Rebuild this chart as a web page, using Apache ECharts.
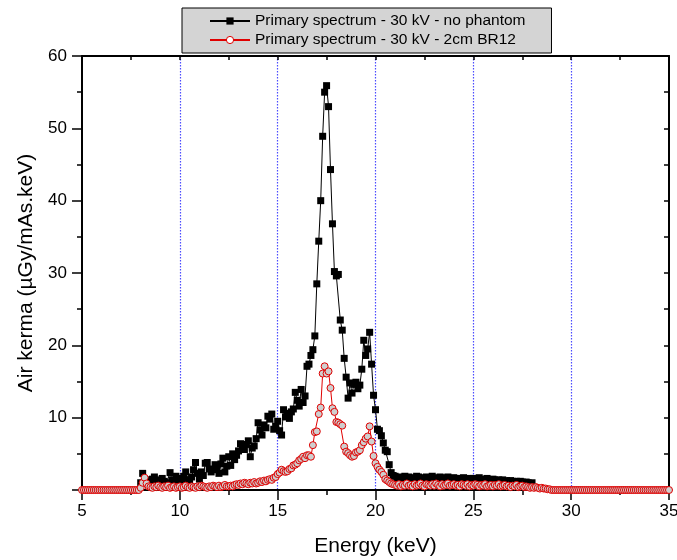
<!DOCTYPE html>
<html><head><meta charset="utf-8">
<script src="https://cdn.jsdelivr.net/npm/echarts@6/dist/echarts.min.js"></script>
<style>html,body{margin:0;padding:0;background:#fff}#c{width:677px;height:560px}</style>
</head><body><div id="c"></div>
<script>
// ---- data (energy step 0.1 keV) ----
const energyStep = 0.1;
const blackStartEnergy = 8.0;   // keV of first black value
const redStartEnergy = 5.0;     // keV of first red value
const seriesNames = ['Primary spectrum - 30 kV - no phantom', 'Primary spectrum - 30 kV - 2cm BR12'];
const xTickValues = [5, 10, 15, 20, 25, 30, 35];
const yTickValues = [10, 20, 30, 40, 50, 60];

// no phantom, 8.0 ... 28.0 keV
const blackValues = [
  1.0, 2.3, 1.0, 1.4, 0.8, 1.1, 1.5, 1.8, 1.0, 1.4,
  0.9, 1.6, 1.2, 0.8, 1.0, 2.4, 1.4, 1.1, 1.9, 1.0,
  1.6, 1.2, 1.9, 2.5, 1.4, 1.4, 1.8, 2.8, 3.8, 2.3,
  1.5, 2.5, 2.0, 3.7, 3.8, 2.9, 2.5, 2.8, 3.5, 3.2,
  2.3, 3.6, 4.4, 2.5, 3.3, 4.6, 3.4, 5.0, 4.2, 4.8,
  5.4, 6.4, 6.0, 5.6, 6.3, 6.8, 4.6, 5.8, 6.1, 7.1,
  9.3, 8.3, 7.6, 9.0, 8.6, 10.2, 9.8, 10.5, 8.4, 8.8,
  9.5, 8.2, 7.6, 11.1, 10.1, 10.6, 9.9, 10.8, 11.2, 13.5,
  12.4, 11.6, 13.9, 12.1, 13.0, 17.1, 17.4, 18.6, 19.4, 21.3,
  28.5, 34.4, 40.0, 48.9, 55.0, 55.9, 53.0, 44.3, 36.8, 30.2,
  29.6, 29.8, 23.5, 22.1, 18.2, 15.6, 12.7, 14.8, 13.4, 14.6,
  14.9, 14.0, 14.5, 16.7, 20.7, 18.6, 19.5, 21.8, 17.4, 13.1,
  11.1, 8.4, 8.2, 7.5, 6.5, 5.5, 5.3, 3.5, 2.4, 2.0,
  1.9, 1.6, 1.8, 1.5, 1.7, 1.9, 1.6, 1.8, 1.4, 1.7,
  1.6, 1.9, 1.8, 1.5, 1.7, 1.6, 1.8, 1.5, 1.6, 1.9,
  1.7, 1.5, 1.6, 1.8, 1.7, 1.5, 1.6, 1.8, 1.4, 1.6,
  1.7, 1.5, 1.6, 1.4, 1.6, 1.7, 1.5, 1.4, 1.6, 1.5,
  1.6, 1.4, 1.5, 1.7, 1.4, 1.5, 1.3, 1.6, 1.4, 1.3,
  1.5, 1.4, 1.2, 1.4, 1.3, 1.4, 1.2, 1.3, 1.1, 1.3,
  1.2, 1.1, 1.2, 1.0, 1.2, 1.1, 0.9, 1.1, 1.0, 0.9,
  1.0
];

// 2cm BR12, 5.0 ... 35.0 keV
const redValues = [
  0, 0, 0, 0, 0, 0, 0, 0, 0, 0,
  0, 0, 0, 0, 0, 0, 0, 0, 0, 0,
  0, 0, 0, 0, 0, 0, 0, 0, 0, 0,
  0.3, 1.0, 1.7, 0.9, 0.5, 0.4, 0.3, 0.5, 0.4, 0.6,
  0.4, 0.3, 0.5, 0.4, 0.6, 0.3, 0.4, 0.5, 0.3, 0.4,
  0.5, 0.3, 0.4, 0.6, 0.4, 0.3, 0.5, 0.4, 0.3, 0.5,
  0.4, 0.6, 0.5, 0.4, 0.3, 0.5, 0.4, 0.6, 0.5, 0.4,
  0.6, 0.4, 0.5, 0.7, 0.5, 0.5, 0.6, 0.5, 0.7, 0.8,
  0.7, 0.9, 0.8, 1.0, 0.9, 0.8, 1.0, 0.9, 1.1, 0.9,
  1.0, 1.2, 1.1, 1.3, 1.2, 1.4, 1.5, 1.4, 1.7, 1.8,
  2.2, 2.4, 2.8, 2.6, 2.5, 2.6, 2.9, 3.0, 3.4, 3.5,
  3.7, 4.1, 4.3, 4.6, 4.4, 4.8, 4.8, 4.6, 6.2, 8.0,
  8.1, 10.5, 11.4, 16.1, 17.1, 16.1, 16.4, 14.1, 11.3, 10.8,
  9.4, 9.3, 9.1, 8.9, 6.0, 5.3, 5.1, 4.8, 4.6, 4.7,
  5.2, 5.3, 5.5, 6.2, 6.6, 7.1, 7.4, 8.8, 6.7, 4.7,
  3.7, 3.2, 2.8, 2.5, 2.1, 1.5, 1.3, 1.1, 0.9, 0.8,
  0.7, 0.6, 0.8, 0.5, 0.7, 0.6, 0.9, 0.6, 0.7, 0.5,
  0.8, 0.6, 0.7, 0.9, 0.6, 0.5, 0.8, 0.7, 0.6, 0.8,
  0.6, 0.9, 0.7, 0.5, 0.8, 0.6, 0.7, 0.9, 0.6, 0.7,
  0.8, 0.6, 0.7, 0.5, 0.8, 0.7, 0.6, 0.8, 0.5, 0.7,
  0.6, 0.8, 0.7, 0.5, 0.7, 0.6, 0.8, 0.5, 0.6, 0.7,
  0.5, 0.7, 0.6, 0.8, 0.5, 0.6, 0.7, 0.5, 0.6, 0.4,
  0.6, 0.5, 0.7, 0.4, 0.5, 0.6, 0.4, 0.5, 0.4, 0.3,
  0.4, 0.3, 0.4, 0.3, 0.2, 0.3, 0.2, 0.2, 0.1, 0.1,
  0, 0, 0, 0, 0, 0, 0, 0, 0, 0,
  0, 0, 0, 0, 0, 0, 0, 0, 0, 0,
  0, 0, 0, 0, 0, 0, 0, 0, 0, 0,
  0, 0, 0, 0, 0, 0, 0, 0, 0, 0,
  0, 0, 0, 0, 0, 0, 0, 0, 0, 0,
  0, 0, 0, 0, 0, 0, 0, 0, 0, 0,
  0
];

function toPairs(start, vals) {
  return vals.map((v, i) => [Math.round((start + i * energyStep) * 10) / 10, v]);
}

const FONT = '"Liberation Sans", Arial, sans-serif';
const chart = echarts.init(document.getElementById('c'), null, {renderer: 'canvas'});

const frameLine = {show: true, onZero: false, lineStyle: {color: '#000', width: 2}};

chart.setOption({
  animation: false,
  backgroundColor: '#fff',
  grid: {left: 82, right: 8, top: 56, bottom: 70, outerBoundsMode: 'none', containLabel: false},
  legend: {
    left: 182, top: 8, orient: 'vertical',
    backgroundColor: '#d4d4d4', borderColor: '#000', borderWidth: 1,
    padding: [5, 26, 5, 27],
    itemWidth: 40, itemHeight: 9, itemGap: 3,
    textStyle: {fontSize: 15.5, color: '#000', fontFamily: FONT},
    data: [
      {name: seriesNames[0], itemStyle: {color: '#000'}},
      {name: seriesNames[1], itemStyle: {color: '#fff', borderColor: '#e00000', borderWidth: 1}}
    ]
  },
  xAxis: [
    {
      type: 'value', position: 'bottom', min: xTickValues[0], max: xTickValues[xTickValues.length - 1], interval: 5,
      axisLine: frameLine,
      axisTick: {show: true, inside: false, length: 10, lineStyle: {color: '#000', width: 1.5}},
      minorTick: {show: true, splitNumber: 2, length: 5, lineStyle: {color: '#000', width: 1.5}},
      axisLabel: {margin: 13, fontSize: 17, color: '#000', fontFamily: FONT},
      splitLine: {show: true, showMinLine: false, showMaxLine: false, lineStyle: {color: '#4b4bff', type: [1.5, 1.5], width: 1.2}},
      name: 'Energy (keV)', nameLocation: 'middle', nameGap: 46,
      nameTextStyle: {fontSize: 21, color: '#000', fontFamily: FONT}
    },
    {
      type: 'value', position: 'top', min: xTickValues[0], max: xTickValues[xTickValues.length - 1], interval: 5,
      axisLine: frameLine,
      axisTick: {show: true, inside: true, length: 4, lineStyle: {color: '#000', width: 1.5}},
      minorTick: {show: true, splitNumber: 2, length: 4, lineStyle: {color: '#000', width: 1.5}},
      axisLabel: {show: false}, splitLine: {show: false}
    }
  ],
  yAxis: [
    {
      type: 'value', position: 'left', min: 0, max: yTickValues[yTickValues.length - 1], interval: 10,
      axisLine: frameLine,
      axisTick: {show: true, inside: false, length: 10, lineStyle: {color: '#000', width: 1.5}},
      minorTick: {show: true, splitNumber: 2, length: 5, lineStyle: {color: '#000', width: 1.5}},
      axisLabel: {margin: 15, fontSize: 17, color: '#000', fontFamily: FONT,
        formatter: v => (yTickValues.indexOf(v) >= 0 ? String(v) : '')},
      splitLine: {show: false},
      name: 'Air kerma (µGy/mAs.keV)', nameLocation: 'middle', nameGap: 45, nameRotate: 90,
      nameTextStyle: {fontSize: 21, color: '#000', fontFamily: FONT}
    },
    {
      type: 'value', position: 'right', min: 0, max: yTickValues[yTickValues.length - 1], interval: 10,
      axisLine: frameLine,
      axisTick: {show: true, inside: true, length: 5, lineStyle: {color: '#000', width: 1.5}},
      minorTick: {show: true, splitNumber: 2, length: 5, lineStyle: {color: '#000', width: 1.5}},
      axisLabel: {show: false}, splitLine: {show: false}
    }
  ],
  series: [
    {
      name: seriesNames[0], type: 'line', xAxisIndex: 0, yAxisIndex: 0,
      data: toPairs(blackStartEnergy, blackValues),
      symbol: 'rect', symbolSize: 7, showAllSymbol: true,
      lineStyle: {color: '#000', width: 1},
      itemStyle: {color: '#000'},
      z: 2
    },
    {
      name: seriesNames[1], type: 'line', xAxisIndex: 0, yAxisIndex: 0,
      data: toPairs(redStartEnergy, redValues),
      symbol: 'circle', symbolSize: 7, showAllSymbol: true,
      lineStyle: {color: '#e00000', width: 1},
      itemStyle: {color: '#cfcfcf', borderColor: '#e00000', borderWidth: 1},
      z: 3
    }
  ]
});
</script>
</body></html>
